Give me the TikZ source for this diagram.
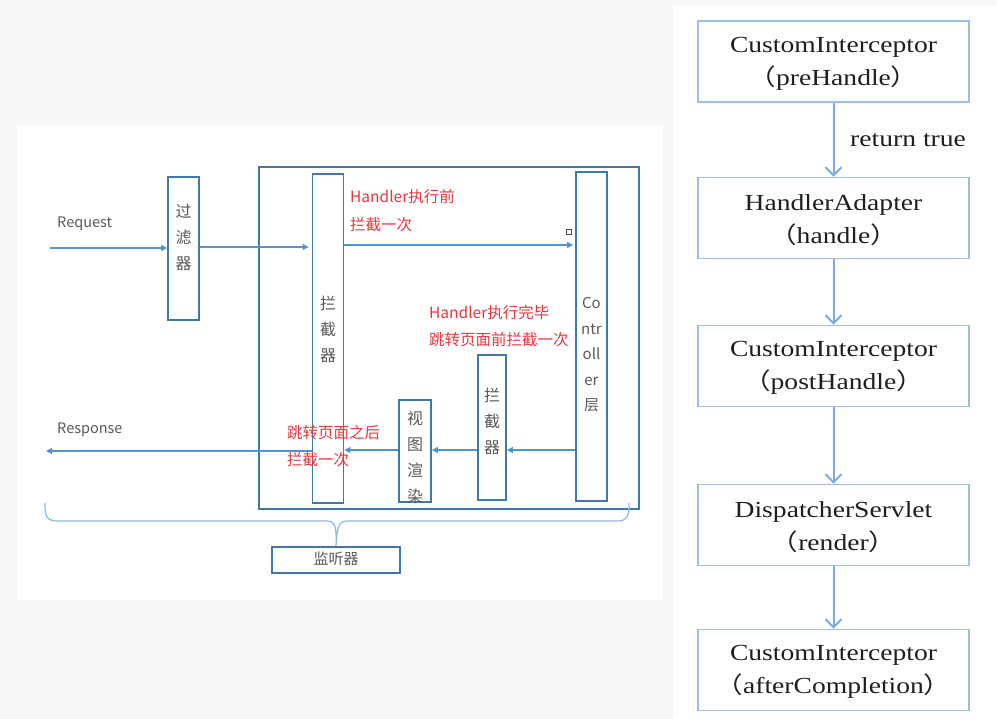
\documentclass[tikz,border=0pt]{standalone}
\usepackage{fontspec}
\setmainfont{Liberation Serif}
\newfontfamily\cjk{Noto Sans CJK SC}
\usetikzlibrary{arrows.meta}
\definecolor{bgc}{HTML}{F7F7F7}
\definecolor{boxblue}{HTML}{4178A8}
\definecolor{arrblue}{HTML}{4D95D2}
\definecolor{braceblue}{HTML}{8DB7E0}
\definecolor{rbox}{HTML}{9CBFE8}
\definecolor{rarr}{HTML}{7DAADF}
\definecolor{graytxt}{HTML}{595959}
\definecolor{redtxt}{HTML}{E8363C}
\newcommand{\wideText}[1]{\scalebox{1.2}[1]{#1}}
\begin{document}
\begin{tikzpicture}[x=1pt,y=-1pt,
  lbox/.style={draw=boxblue,line width=1.8pt,inner sep=0pt,minimum width=#1},
  rboxs/.style={draw=rbox,line width=1.8pt,inner sep=0pt,minimum width=271pt,minimum height=81pt},
  larr/.style={draw=arrblue,line width=1.3pt,-{Triangle[length=6pt,width=6pt]}},
  rarrow/.style={draw=rarr,line width=2pt,-{Straight Barb[length=8pt,width=16pt,line width=2pt]}},
  vtxt/.style={font=\cjk\fontsize{16}{26}\selectfont,text=graytxt,align=center,inner sep=0pt},
  ltxt/.style={font=\cjk\fontsize{14.5}{18}\selectfont,text=graytxt,anchor=west,inner sep=0pt},
  redl/.style={font=\cjk\fontsize{15.5}{18}\selectfont,text=redtxt,anchor=west,inner sep=0pt},
  rtxt/.style={font=\fontsize{23}{33}\selectfont,text=black!88,align=center,inner sep=0pt}]
\useasboundingbox (0,0) rectangle (997,719);
\fill[bgc] (0,0) rectangle (997,719);
\fill[white] (17,125) rectangle (663,600);
\fill[white] (673,5) rectangle (997,719);

% ---------- left diagram ----------
\node[lbox=380pt,minimum height=342pt] (outer) at (449,338) {};
\node[lbox=31pt,minimum height=143pt] (filter) at (183.5,248.5) {};
\node[lbox=31pt,minimum height=329pt] (int1) at (328,338.5) {};
\node[lbox=31pt,minimum height=329pt] (ctrl) at (591.5,336.5) {};
\node[lbox=28pt,minimum height=145pt] (int2) at (492,427.5) {};
\node[lbox=32pt,minimum height=102pt] (view) at (415,451) {};
\node[lbox=128pt,minimum height=26.5pt] (listener) at (336,560) {};

\node[vtxt] (filtert) at (183.5,237) {过\\滤\\器};
\node[vtxt] (int1t) at (328,329) {拦\\截\\器};
\node[vtxt,font=\cjk\fontsize{15}{25.5}\selectfont] (ctrlt) at (591.5,355) {Co\\ntr\\oll\\er\\层};
\node[vtxt,fontscale/.style={}] (int2t) at (492,421) {拦\\截\\器};
\node[vtxt] (viewt) at (415,457) {视\\图\\渲\\染};
\node[vtxt,font=\cjk\fontsize{15}{18}\selectfont] (listenert) at (336,559) {监听器};

\node[ltxt] (req) at (57,224) {Request};
\node[ltxt] (resp) at (57,430) {Response};

\node[redl] (ra1) at (350,197) {Handler执行前};
\node[redl] (ra2) at (350,225) {拦截一次};
\node[redl] (rb1) at (429,313) {Handler执行完毕};
\node[redl] (rb2) at (429,340) {跳转页面前拦截一次};
\node[redl] (rc1) at (287,433) {跳转页面之后};
\node[redl] (rc2) at (287,460) {拦截一次};

\node[draw=black!70,line width=0.8pt,minimum size=5pt,inner sep=0pt] (sq) at (568.5,232) {};

\coordinate (reqstart) at (50,248);
\coordinate (yfwd) at (0,247);
\coordinate (yctl) at (0,245);
\coordinate (yback) at (0,450);
\coordinate (respend) at (46,451);

\draw[larr] (reqstart) -- (filter.west |- reqstart);
\draw[larr,shorten >=3pt] (filter.east |- yfwd) -- (int1.west |- yfwd);
\draw[larr,shorten >=2pt] (int1.east |- yctl) -- (ctrl.west |- yctl);
\draw[larr] (ctrl.west |- yback) -- (int2.east |- yback);
\draw[larr] (int2.west |- yback) -- (view.east |- yback);
\draw[larr] (view.west |- yback) -- (int1.east |- yback);
\draw[larr] (int1.west |- respend) -- (respend);

% brace
\coordinate (brl) at (45,503);
\coordinate (brr) at (629,503);
\draw[braceblue,line width=1.2pt] (brl) .. controls (45,517) and (47,521) .. (58,521)
  -- (326,521) .. controls (334,521) and (337,524) .. (listener.north)
  (listener.north) .. controls (337,524) and (340,521) .. (348,521)
  -- (617,521) .. controls (627,521) and (629,517) .. (brr);

% ---------- right flow ----------
\node[rboxs] (b1) at (833.5,61.5) {};
\node[rboxs] (b2) at (833.5,218) {};
\node[rboxs] (b3) at (833.5,366) {};
\node[rboxs] (b4) at (833.5,525) {};
\node[rboxs] (b5) at (833.5,670) {};

\node[rtxt] (b1t) at (833.5,63.5) {\wideText{CustomInterceptor}\\\wideText{\cjk（}\wideText{preHandle}\wideText{\cjk）}};
\node[rtxt] (b2t) at (833.5,220) {\wideText{HandlerAdapter}\\\wideText{\cjk（}\wideText{handle}\wideText{\cjk）}};
\node[rtxt] (b3t) at (833.5,368) {\wideText{CustomInterceptor}\\\wideText{\cjk（}\wideText{postHandle}\wideText{\cjk）}};
\node[rtxt] (b4t) at (833.5,527) {\wideText{DispatcherServlet}\\\wideText{\cjk（}\wideText{render}\wideText{\cjk）}};
\node[rtxt] (b5t) at (833.5,672) {\wideText{CustomInterceptor}\\\wideText{\cjk（}\wideText{afterCompletion}\wideText{\cjk）}};

\node[rtxt,anchor=west] (rt) at (850,140) {\wideText{return true}};

\draw[rarrow] (b1.south) -- (b2.north);
\draw[rarrow] (b2.south) -- (b3.north);
\draw[rarrow] (b3.south) -- (b4.north);
\draw[rarrow] (b4.south) -- (b5.north);
\end{tikzpicture}
\end{document}
